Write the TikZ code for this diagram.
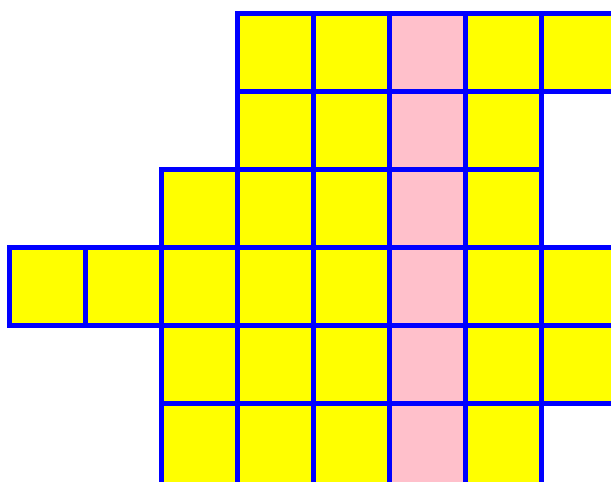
\documentclass[tikz,border=0pt]{standalone}
\definecolor{cellyellow}{RGB}{255,255,0}
\definecolor{cellpink}{RGB}{255,192,203}
\definecolor{cellblue}{RGB}{0,0,255}
\begin{document}
\begin{tikzpicture}[x=1pt,y=-1pt,
  cell/.style={draw=cellblue, line width=5pt, fill=cellyellow},
  pinkcell/.style={cell, fill=cellpink}]
\useasboundingbox (0,0) rectangle (611,482);
\clip (0,0) rectangle (611,482);
\foreach \r/\a/\b in {0/3/7,1/3/6,2/2/6,3/0/7,4/2/7,5/2/6}{
  \foreach \c in {\a,...,\b}{
    \pgfmathsetmacro\xl{9+76.1*\c}
    \pgfmathsetmacro\yt{13+78*\r}
    \pgfmathsetmacro\h{\r==5 ? 90 : 78}
    \ifnum\c=5
      \draw[pinkcell] (\xl,\yt) rectangle ++(76.1,\h);
    \else
      \draw[cell] (\xl,\yt) rectangle ++(76.1,\h);
    \fi
  }
}
\end{tikzpicture}
\end{document}
